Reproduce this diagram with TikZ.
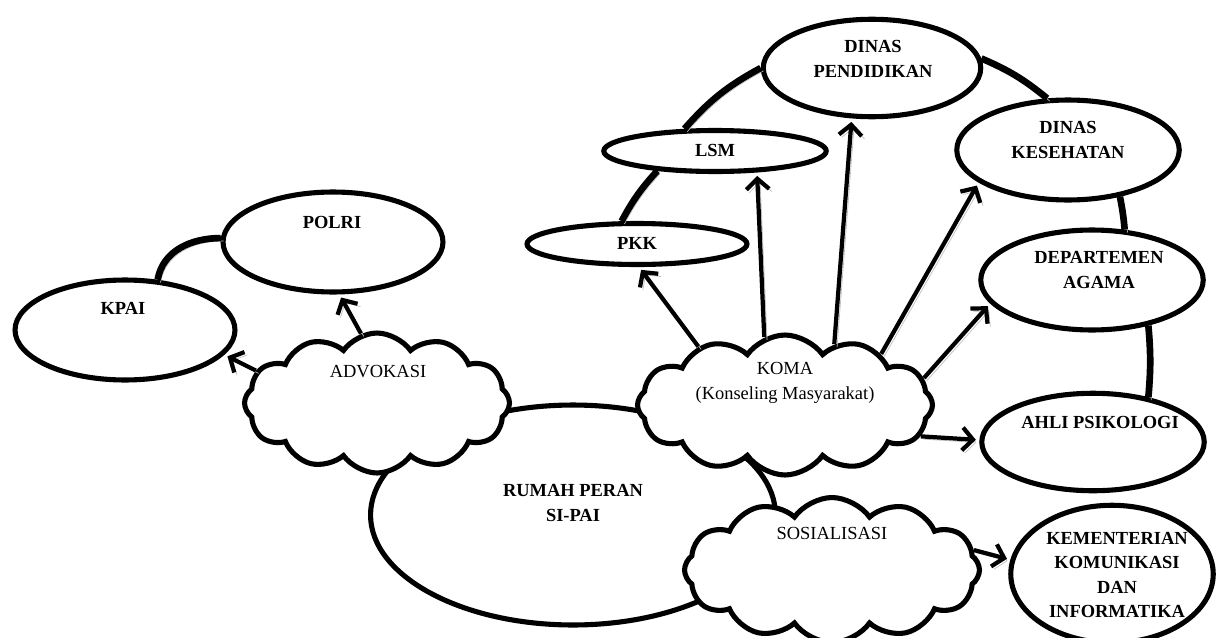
\documentclass[tikz,border=0pt]{standalone}
\usepackage{fontspec}
\setmainfont{Liberation Serif}
\usetikzlibrary{shapes.geometric,shapes.symbols,arrows.meta}
\tikzset{
  oval/.style={ellipse, draw, fill=white, line width=2.9pt, inner sep=0pt},
  cloudy/.style={cloud, draw, fill=white, line width=2.9pt, cloud puffs=12,
    cloud puff arc=110, cloud ignores aspect, inner sep=0pt},
  title/.style={font=\bfseries\fontsize{10.5}{14}\selectfont, align=center},
  plain/.style={font=\fontsize{10.5}{14.5}\selectfont, align=center},
  shade/.style={preaction={draw=gray!50, transform canvas={shift={(1.6pt,-1.6pt)}}}},
  arr/.style={line width=2.4pt, shade, -{Straight Barb[length=6pt,width=13pt]}, shorten >=2pt},
  ring/.style={line width=3.8pt, shade}
}
\begin{document}
\begin{tikzpicture}[x=0.02cm, y=0.02cm]
\useasboundingbox (0,0) rectangle (1220,637);
% rumah peran, behind the clouds
\node[oval, minimum width=8.1cm, minimum height=4.4cm] (rumah) at (573,122) {};
% clouds
\node[cloudy, minimum width=5.3cm, minimum height=2.8cm] (adv) at (377,234) {};
\node[cloudy, minimum width=5.9cm, minimum height=2.8cm] (koma) at (785,232) {};
\node[cloudy, minimum width=5.9cm, minimum height=2.9cm] (sos) at (832,67) {};
% ellipses
\node[oval, minimum width=4.4cm, minimum height=2cm] (kpai) at (125,307) {};
\node[oval, minimum width=4.4cm, minimum height=2cm] (polri) at (333,395) {};
\node[oval, minimum width=4.4cm, minimum height=0.82cm] (pkk) at (637,393) {};
\node[oval, minimum width=4.45cm, minimum height=0.82cm] (lsm) at (715,486) {};
\node[oval, minimum width=4.35cm, minimum height=1.95cm] (dinasp) at (872,569) {};
\node[oval, minimum width=4.45cm, minimum height=2cm] (dinask) at (1068,487) {};
\node[oval, minimum width=4.45cm, minimum height=2cm] (depag) at (1092,357) {};
\node[oval, minimum width=4.45cm, minimum height=1.95cm] (ahli) at (1093,195) {};
\node[oval, minimum width=4.05cm, minimum height=2.75cm] (kem) at (1112,63) {};
% ring
\draw[ring] (kpai.57) to[out=80,in=180] (polri.178);
\draw[ring] (pkk.124) to[bend left=7] (lsm.-161);
\draw[ring] (lsm.144) to[bend left=10] (dinasp.west);
\draw[ring] (dinasp.5) to[bend left=8] (dinask.112);
\draw[ring] (dinask.-42) to[bend left=3] (depag.57);
\draw[ring] (depag.-39) to[bend left=5] (ahli.39);
% arrows
\draw[arr] (adv.165) -- (kpai.-14);
\draw[arr] (adv.103) -- (polri.-83);
\draw[arr] (koma.146) -- (pkk.-85);
\draw[arr] (koma.107) -- (lsm.-27);
\draw[arr] (koma.51) -- (dinasp.-112);
\draw[arr] (koma.28) -- (dinask.-160);
\draw[arr] (koma.11) -- (depag.-167);
\draw[arr] (koma.-13) -- (ahli.179);
\draw[arr] (sos.8) -- (kem.172);
% texts
\node[title] (rumahT) at (573,134) {RUMAH PERAN\\SI-PAI};
\node[title] (kpaiT) at (123,329) {KPAI};
\node[title] (polriT) at (332,415) {POLRI};
\node[title] (pkkT) at (637,394) {PKK};
\node[title] (lsmT) at (715,487) {LSM};
\node[title] (dinaspT) at (873,578) {DINAS\\PENDIDIKAN};
\node[title] (dinaskT) at (1068,497) {DINAS\\KESEHATAN};
\node[title] (depagT) at (1099,367) {DEPARTEMEN\\AGAMA};
\node[title] (ahliT) at (1100,215) {AHLI PSIKOLOGI};
\node[title] (kemT) at (1117,62) {KEMENTERIAN\\KOMUNIKASI\\DAN\\INFORMATIKA};
\node[plain] (advT) at (378,265) {ADVOKASI};
\node[plain] (komaT) at (785,254) {KOMA\\(Konseling Masyarakat)};
\node[plain] (sosT) at (832,104) {SOSIALISASI};
\end{tikzpicture}
\end{document}
